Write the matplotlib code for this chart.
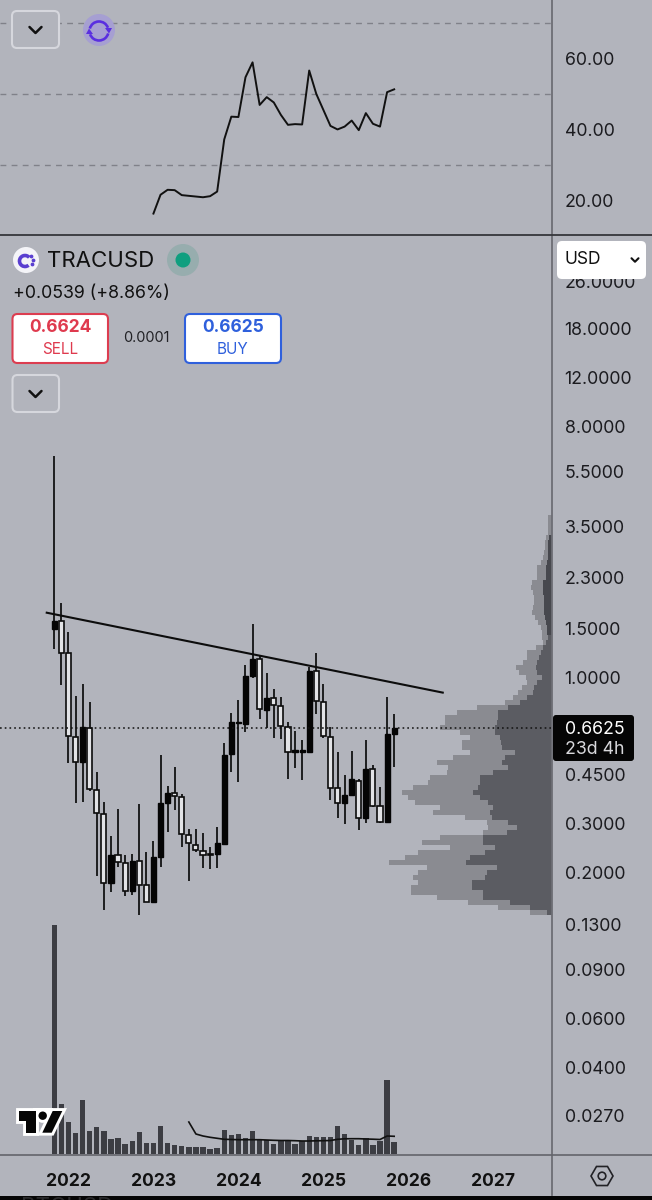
import numpy as np
import matplotlib
matplotlib.use('Agg')
import matplotlib.pyplot as plt
from matplotlib.patches import FancyBboxPatch, Circle, Arc, Polygon, RegularPolygon, Rectangle

plt.rcParams['font.family'] = ['Inter', 'DejaVu Sans']

# monthly candles, Nov 2021 to Nov 2025
opens = [1.503, 1.602, 1.226, 0.616, 0.501, 0.663, 0.397, 0.324, 0.184, 0.232, 0.217, 0.172, 0.220, 0.180, 0.157,
         0.227, 0.357, 0.387, 0.375, 0.273, 0.252, 0.239, 0.234, 0.234, 0.254, 0.532, 0.691, 0.682, 1.017, 1.173,
         0.768, 0.846, 0.791, 0.667, 0.543, 0.543, 0.544, 1.057, 0.820, 0.616, 0.402, 0.355, 0.379, 0.428, 0.314,
         0.473, 0.346, 0.305, 0.630]
highs = [6.26, 1.858, 1.459, 0.862, 0.949, 0.818, 0.459, 0.359, 0.271, 0.339, 0.232, 0.234, 0.354, 0.237, 0.259,
         0.529, 0.411, 0.480, 0.383, 0.286, 0.286, 0.278, 0.248, 0.291, 0.586, 0.751, 0.832, 1.113, 1.559, 1.202,
         1.045, 0.911, 0.853, 0.697, 0.647, 0.599, 1.092, 1.226, 0.954, 0.665, 0.544, 0.450, 0.548, 0.433, 0.599,
         0.487, 0.407, 0.857, 0.745]
lows = [1.271, 0.941, 0.494, 0.355, 0.359, 0.394, 0.195, 0.147, 0.170, 0.210, 0.165, 0.166, 0.141, 0.157, 0.157,
        0.210, 0.281, 0.337, 0.248, 0.187, 0.237, 0.208, 0.207, 0.208, 0.252, 0.461, 0.424, 0.642, 1.003, 0.714,
        0.660, 0.611, 0.603, 0.435, 0.476, 0.430, 0.544, 0.743, 0.611, 0.365, 0.314, 0.298, 0.379, 0.285, 0.301,
        0.345, 0.301, 0.305, 0.480]
closes = [1.606, 1.233, 0.619, 0.501, 0.665, 0.401, 0.328, 0.183, 0.232, 0.218, 0.172, 0.220, 0.181, 0.157, 0.227,
          0.355, 0.387, 0.378, 0.275, 0.255, 0.241, 0.231, 0.231, 0.255, 0.529, 0.693, 0.697, 1.017, 1.173, 0.772,
          0.850, 0.798, 0.671, 0.543, 0.550, 0.550, 1.062, 0.825, 0.619, 0.403, 0.355, 0.379, 0.433, 0.314, 0.470,
          0.347, 0.304, 0.630, 0.661]

volumes = [229, 50, 31.7, 21.3, 54, 22.7, 27, 22.7, 15.3, 16.3, 9.7, 13, 22, 10.7, 11.3, 27.7, 10.7, 9.3, 8, 7,
           7.3, 7, 5, 6.3, 23.7, 19.3, 20.3, 16.3, 22.7, 14.7, 14, 10, 14, 13, 10, 12.7, 18, 16.7, 16.7, 16.7,
           28, 20, 14, 8.7, 15.7, 9, 13.3, 74, 12]
vol_ma = [32, 20, 18, 16.7, 15.7, 14.7, 14.5, 14.3, 14.3, 14.3, 14.3, 14, 13.7, 13.5, 13.5, 13.3, 13, 13, 13.2,
          13.3, 13.5, 14.7, 15.2, 15.3, 15.3, 15, 14.8, 14.5, 18, 17.7]
vol_ma_start = 19

rsi = [16.4, 21.7, 23.1, 23, 21.6, 21.4, 21.2, 21, 21.3, 22.6, 37.3, 43.7, 43.6, 54.8, 59, 47, 49.2, 47.7, 44.2,
       41.4, 41.6, 41.5, 56.7, 50.1, 45.6, 41.1, 40.1, 40.9, 42.6, 39.9, 44.7, 41.7, 40.9, 50.6, 51.4]
rsi_start = 14

# volume profile, rows from the top of the range to the bottom
profile_total = [3.7, 3.7, 3.7, 3.7, 6.3, 7, 7, 8, 8.7, 11.3, 14.7, 14.7, 15.3, 20.3, 21.3, 18.7, 18, 18, 18.7, 20.3,
                 17, 13.7, 11.3, 10.3, 9.7, 8.7, 16, 25.3, 25.3, 29.3, 36, 32.7, 26, 25.3, 30.3, 33.7, 38.7, 47,
                 75.3, 95.3, 107, 107, 112, 92, 82, 90.3, 90.3, 82, 98.7, 115.3, 103.7, 105.3, 122, 123.7, 138.7,
                 150.3, 143.7, 137, 112, 118.7, 87, 65.3, 63.7, 68.7, 112, 130.3, 102, 133.7, 147, 162.7, 125.3,
                 133.7, 138.7, 133.7, 141.3, 141.3, 115.3, 83.7, 53.7, 22]
profile_dark = [0, 0, 0, 0, 2.7, 3.7, 3.7, 3.7, 3.7, 5.3, 6.3, 6.3, 6.3, 8.7, 8.7, 8.7, 8, 8, 8, 8, 7, 6.3, 5.3, 4.7,
                4.3, 6.3, 8.7, 11.3, 12.7, 14.7, 16.3, 15.3, 10.3, 15.3, 18, 19.3, 25.3, 32, 43.7, 53.7, 53.7, 55.3,
                57, 57, 52, 51.3, 50.3, 37, 47, 50.3, 43.7, 58.7, 72, 72, 73.7, 78.7, 72, 63.7, 58.7, 62, 60.3,
                43.7, 35.3, 45.3, 68.7, 68.7, 57, 67, 82, 86, 55.3, 65.3, 67, 80.3, 80.3, 68.7, 68.7, 42, 22, 5.3]
profile_top = 3.846
profile_bottom = 0.141
profile_upper_rows = 24  # rows that are drawn darker above 1.5

trend_x = [-1.07, 54.86]
trend_y = [1.715, 0.886]
last_price = 0.6625

price_ticks = [26.5, 18, 12, 8, 5.5, 3.5, 2.3, 1.5, 1.0, 0.45, 0.3, 0.2, 0.13, 0.09, 0.06, 0.04, 0.027]
price_labels = ['26.0000', '18.0000', '12.0000', '8.0000', '5.5000', '3.5000', '2.3000', '1.5000', '1.0000',
                '0.4500', '0.3000', '0.2000', '0.1300', '0.0900', '0.0600', '0.0400', '0.0270']
rsi_ticks = [60, 40, 20]
rsi_levels = [70, 50, 30]
year_ticks = [2, 14, 26, 38, 50, 62]
year_labels = ['2022', '2023', '2024', '2025', '2026', '2027']

BG = '#b2b4bc'
W, H = 652, 1200


def px_axes(fig, x0, y0, x1, y1, **kw):
    # axes placed by pixel box, y counted from the top of the image
    return fig.add_axes([x0 / W, 1 - y1 / H, (x1 - x0) / W, (y1 - y0) / H], **kw)


def rounded(ax, x0, y0, x1, y1, fc, ec, lw=1.5, r=5, zorder=5):
    ax.add_patch(FancyBboxPatch((x0 + r, y0 + r), x1 - x0 - 2 * r, y1 - y0 - 2 * r,
                                boxstyle=f'round,pad={r},rounding_size={r}', fc=fc, ec=ec, lw=lw, zorder=zorder))


def chevron(ax, x, y, s=6, lw=1.8, color='#111111'):
    ax.plot([x - s, x, x + s], [y - s * 0.5, y + s * 0.5, y - s * 0.5], color=color, lw=lw, zorder=6,
            solid_capstyle='round', solid_joinstyle='round')


fig = plt.figure(figsize=(W / 100, H / 100), dpi=100, facecolor=BG)
n = len(opens)
idx = np.arange(n)
xlim = (-7.67, 70.29)

# top pane
ax_rsi = px_axes(fig, 0, 0, 552, 234, facecolor=BG)
ax_rsi.set_xlim(xlim)
ax_rsi.set_ylim(10.65, 76.56)
for lev in rsi_levels:
    ax_rsi.axhline(lev, color='#808189', lw=1.0, dashes=(4.2, 3.8))
ax_rsi.plot(np.arange(rsi_start, rsi_start + len(rsi)), rsi, color='#111111', lw=1.4)
ax_rsi.yaxis.tick_right()
ax_rsi.set_yticks(rsi_ticks)
ax_rsi.set_yticklabels([f'{v:.2f}' for v in rsi_ticks], fontsize=12.8, color='#1b1b1f')
ax_rsi.tick_params(axis='y', length=0, pad=9)
ax_rsi.set_xticks([])
for s in ax_rsi.spines.values():
    s.set_visible(False)

# volume sits on the floor of the price pane
ax_vol = px_axes(fig, 0, 920, 552, 1154, facecolor='none')
ax_vol.set_xlim(xlim)
ax_vol.set_ylim(0, 234)
ax_vol.bar(idx, volumes, width=0.76, color='#3c3d43')
ax_vol.plot(np.arange(vol_ma_start, vol_ma_start + len(vol_ma)), vol_ma, color='#111111', lw=1.2)
ax_vol.axis('off')

# volume profile, growing from the price scale to the left
ax_prof = px_axes(fig, 0, 235, 552, 1155, facecolor='none')
ax_prof.set_yscale('log')
ax_prof.set_ylim(0.0194, 38.9)
ax_prof.set_xlim(552, 0)
edges = np.geomspace(profile_top, profile_bottom, len(profile_total) + 1)
dark_colors = ['#47484e' if i < profile_upper_rows else '#5b5c62' for i in range(len(profile_dark))]
ax_prof.barh(edges[1:], profile_total, height=edges[:-1] - edges[1:], align='edge', color='#8a8b91', lw=0)
ax_prof.barh(edges[1:], profile_dark, height=edges[:-1] - edges[1:], align='edge', color=dark_colors, lw=0)
ax_prof.axis('off')

# price pane
ax = px_axes(fig, 0, 235, 552, 1155, facecolor='none')
ax.set_yscale('log')
ax.set_xlim(xlim)
ax.set_ylim(0.0194, 38.9)
o, h, l, c = map(np.array, (opens, highs, lows, closes))
up = c >= o
ax.vlines(idx, l, h, color='#0c0c0c', lw=1.25, zorder=2)
ax.bar(idx[up], (c - o)[up], bottom=o[up], width=0.72, color='#050505', edgecolor='#050505', lw=1.0, zorder=3)
ax.bar(idx[~up], (o - c)[~up], bottom=c[~up], width=0.72, color='#e2e3e6', edgecolor='#0c0c0c', lw=1.2, zorder=3)
ax.plot(trend_x, trend_y, color='#0c0c0c', lw=1.5, zorder=4)
ax.axhline(last_price, color='#111111', lw=1.1, dashes=(1.1, 2.0), zorder=4)
ax.yaxis.tick_right()
ax.set_yticks(price_ticks)
ax.set_yticklabels(price_labels, fontsize=12.8, color='#1b1b1f')
ax.minorticks_off()
ax.tick_params(axis='y', length=0, pad=9)
ax.set_xticks(year_ticks)
ax.set_xticklabels(year_labels, fontsize=12.6, fontweight='bold', color='#111111')
ax.tick_params(axis='x', length=0, pad=13)
for s in ax.spines.values():
    s.set_visible(False)

# interface around the chart, pixel coordinates
ui = fig.add_axes([0, 0, 1, 1], facecolor='none')
ui.set_xlim(0, W)
ui.set_ylim(H, 0)
ui.axis('off')
ui.plot([552, 552], [0, 1195], color='#6d6e75', lw=1.3, zorder=1)
ui.plot([0, W], [234.5, 234.5], color='#35363b', lw=1.3, zorder=1)
ui.plot([0, W], [1155, 1155], color='#63646b', lw=1.2, zorder=1)
ui.add_patch(Rectangle((0, 1195.5), W, 5, fc='#050505', ec='none', zorder=2))
# next symbol peeking in under the black band, cut by the image edge as in the screenshot
ui.text(21, 1197, 'BTCUSD', fontsize=16, color='#2a2a2c', ha='left', va='top', zorder=3)

# top controls
rounded(ui, 12, 11, 59, 48, BG, '#d6d7dd')
chevron(ui, 35.5, 30)
ui.add_patch(Circle((99, 30), 16, fc='#a69fd2', ec='none', zorder=5))
ui.add_patch(Arc((99, 31), 19, 19, theta1=195, theta2=340, ec='#5a2fe0', lw=1.9, zorder=6))
ui.add_patch(Arc((99, 31), 19, 19, theta1=15, theta2=160, ec='#5a2fe0', lw=1.9, zorder=6))
ui.add_patch(Polygon([[105, 28], [112, 28], [109, 33.5]], fc='#5a2fe0', ec='none', zorder=6))
ui.add_patch(Polygon([[86, 34], [93, 34], [89, 28.5]], fc='#5a2fe0', ec='none', zorder=6))

# symbol header
ui.add_patch(Circle((26, 260), 13, fc='#f4f4f8', ec='none', zorder=5))
ui.add_patch(Arc((25, 261), 11, 11, theta1=50, theta2=320, ec='#5a3fd0', lw=2.6, zorder=6))
ui.scatter([31, 33, 32], [256, 260, 264], s=3, color='#5a3fd0', zorder=6)
ui.text(47, 261, 'TRACUSD', fontsize=16, color='#111111', va='center', ha='left', zorder=6)
ui.add_patch(Circle((183, 260), 16, fc='#97adae', ec='none', zorder=5))
ui.add_patch(Circle((183, 260), 7.5, fc='#0f9f7f', ec='none', zorder=6))
ui.text(13, 294, '+0.0539 (+8.86%)', fontsize=12.8, color='#111111', va='center', ha='left', zorder=6)

rounded(ui, 12.5, 314, 108, 363, 'white', '#dc3d50')
ui.text(60, 328, '0.6624', fontsize=12.5, fontweight='bold', color='#df3a4e', ha='center', va='center', zorder=6)
ui.text(60, 349.5, 'SELL', fontsize=11, color='#df3a4e', ha='center', va='center', zorder=6)
ui.text(146, 338, '0.0001', fontsize=10.5, color='#222226', ha='center', va='center', zorder=6)
rounded(ui, 185, 314, 281, 363, 'white', '#2f60dc')
ui.text(233, 328, '0.6625', fontsize=12.5, fontweight='bold', color='#2f60dc', ha='center', va='center', zorder=6)
ui.text(233, 349.5, 'BUY', fontsize=11, color='#2f60dc', ha='center', va='center', zorder=6)
rounded(ui, 12.5, 375, 59, 412, BG, '#d6d7dd')
chevron(ui, 35.5, 394)

# currency select and last price tag
rounded(ui, 557, 241, 646, 279, 'white', 'none', lw=0, r=5)
ui.text(564, 260, 'USD', fontsize=12.5, color='#111111', ha='left', va='center', zorder=6)
chevron(ui, 635, 260, s=3.5, lw=1.5)
rounded(ui, 553, 715, 634, 761, '#050505', 'none', lw=0, r=3)
ui.text(565, 729, '0.6625', fontsize=12.8, color='white', ha='left', va='center', zorder=6)
ui.text(565, 750, '23d 4h', fontsize=12.8, color='#d8d8dc', ha='left', va='center', zorder=6)

# settings hexagon
ui.add_patch(RegularPolygon((602, 1176), 6, radius=11, orientation=np.pi / 6, fc='none', ec='#222226', lw=1.2, zorder=5))
ui.add_patch(Circle((602, 1176), 3.8, fc='none', ec='#222226', lw=1.2, zorder=5))

# chart logo
bar_t = [[18.5, 1111], [36, 1111], [36, 1132.7], [25.7, 1132.7], [25.7, 1121], [18.5, 1121]]
slash = [[52.7, 1111], [62.3, 1111], [51.7, 1132.7], [42.3, 1132.7]]
for shape in (bar_t, slash):
    ui.add_patch(Polygon(shape, fc='white', ec='white', lw=4.2, joinstyle='miter', zorder=5))
ui.add_patch(Circle((42.7, 1115.7), 4.2, fc='white', ec='white', lw=4.2, zorder=5))
ui.add_patch(Rectangle((33, 1108), 20, 12, fc='white', ec='none', zorder=5))
for shape in (bar_t, slash):
    ui.add_patch(Polygon(shape, fc='#050505', ec='none', zorder=6))
ui.add_patch(Circle((42.7, 1115.7), 4.2, fc='#050505', ec='none', zorder=6))

fig.savefig('out.png', dpi=100, facecolor=BG)
